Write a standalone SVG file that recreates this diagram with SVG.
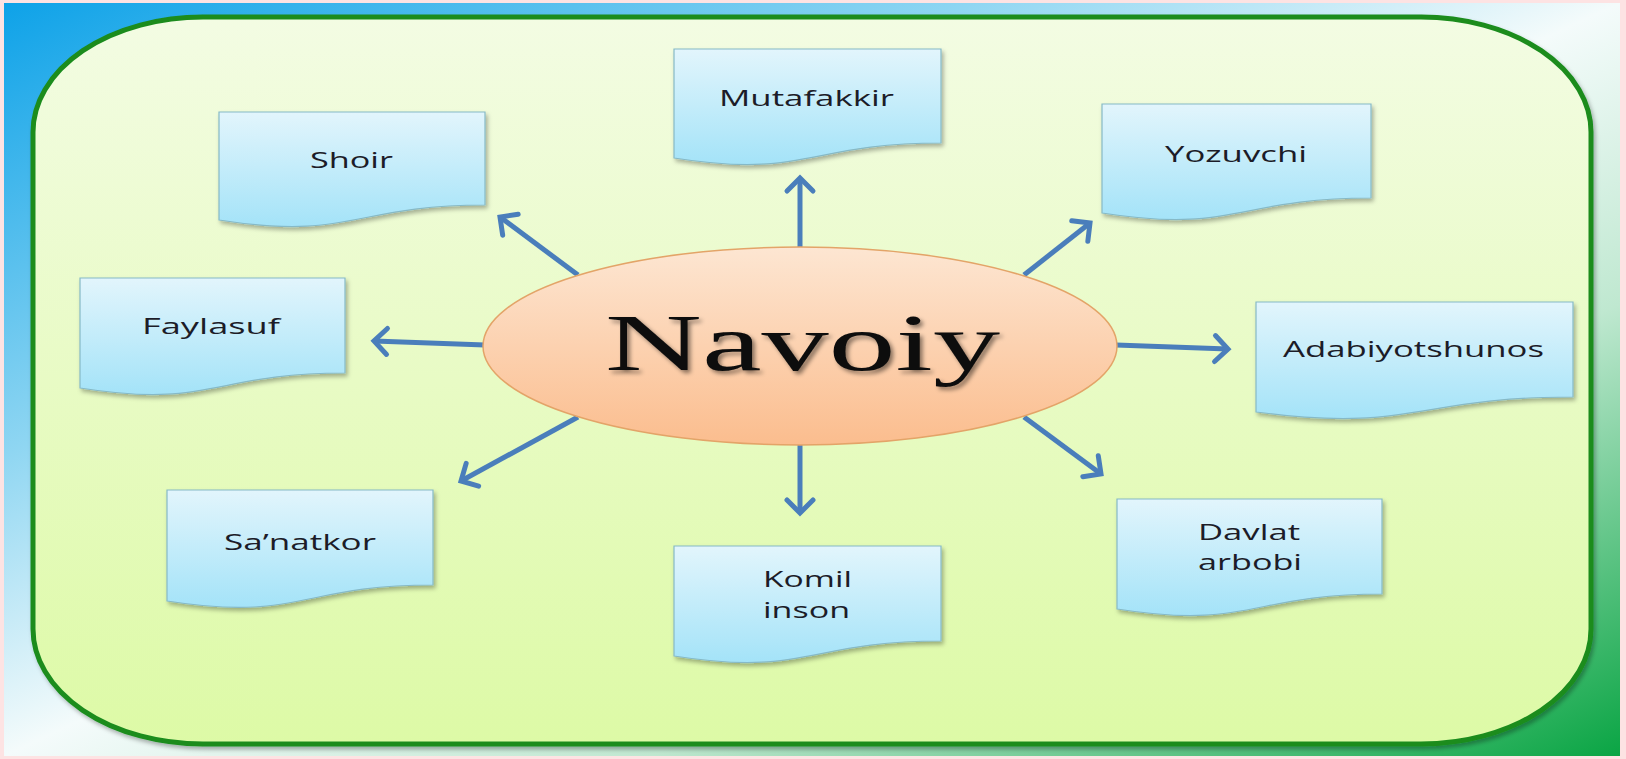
<svg xmlns="http://www.w3.org/2000/svg" width="1626" height="759" viewBox="0 0 1626 759">
<defs>
<linearGradient id="bg" x1="0" y1="0" x2="1" y2="1">
<stop offset="0" stop-color="#0ea2e8"/>
<stop offset="0.3" stop-color="#8fd6f2"/>
<stop offset="0.5" stop-color="#f4fbfb"/>
<stop offset="0.7" stop-color="#bfe8d0"/>
<stop offset="1" stop-color="#0aa544"/>
</linearGradient>
<linearGradient id="panel" x1="0" y1="0" x2="0" y2="1">
<stop offset="0" stop-color="#f3fce3"/>
<stop offset="1" stop-color="#ddfaa6"/>
</linearGradient>
<linearGradient id="doc" x1="0" y1="0" x2="0" y2="1">
<stop offset="0" stop-color="#e2f5fc"/>
<stop offset="1" stop-color="#a4e3f8"/>
</linearGradient>
<linearGradient id="ell" x1="0" y1="0" x2="0" y2="1">
<stop offset="0" stop-color="#fde6d2"/>
<stop offset="1" stop-color="#fbbd8e"/>
</linearGradient>
<filter id="sh" x="-10%" y="-10%" width="130%" height="140%">
<feDropShadow dx="2" dy="3" stdDeviation="2" flood-color="#000" flood-opacity="0.3"/>
</filter>
<filter id="tsh" x="-10%" y="-10%" width="130%" height="140%">
<feDropShadow dx="3" dy="3" stdDeviation="2" flood-color="#000" flood-opacity="0.45"/>
</filter>
<marker id="ah" markerUnits="userSpaceOnUse" markerWidth="40" markerHeight="40" viewBox="-20 -20 40 40" refX="0" refY="0" orient="auto">
<path d="M-13,-13 L0,0 L-13,13" fill="none" stroke="#4a7ebb" stroke-width="5" stroke-linejoin="miter" stroke-linecap="round"/>
</marker>
<style>
.doc{fill:url(#doc);stroke:#86b9c6;stroke-width:1.2;filter:url(#sh)}
.lbl{font-family:"Open Sans","Liberation Sans",sans-serif;font-size:21px;fill:#1c1c28}
.con{stroke:#4a7ebb;stroke-width:5;fill:none;marker-end:url(#ah)}
</style>
</defs>
<rect x="0" y="0" width="1626" height="759" fill="#fde3e3"/>
<rect x="4" y="3" width="1616" height="753" fill="url(#bg)"/>
<rect x="33" y="17" width="1558" height="727" rx="170" ry="115" fill="url(#panel)" stroke="#1a8c1e" stroke-width="5" filter="url(#sh)"/>

<g id="connectors">
<line class="con" x1="800" y1="250" x2="800" y2="178"/>
<line class="con" x1="800" y1="444" x2="800" y2="513"/>
<line class="con" x1="578" y1="275" x2="500" y2="217"/>
<line class="con" x1="1024" y1="275" x2="1090" y2="223"/>
<line class="con" x1="485" y1="345" x2="374" y2="341"/>
<line class="con" x1="1116" y1="345" x2="1228" y2="349"/>
<line class="con" x1="578" y1="417" x2="461" y2="481"/>
<line class="con" x1="1024" y1="417" x2="1101" y2="474"/>
</g>

<g id="navoiy">
<ellipse cx="800" cy="346" rx="317" ry="99" fill="url(#ell)" stroke="#e3a468" stroke-width="1.5"/>
<text x="605" y="370" font-family="'Liberation Serif','Times New Roman',serif" font-size="80" fill="#0a0a0a" textLength="395" lengthAdjust="spacingAndGlyphs" filter="url(#tsh)">Navoiy</text>
</g>

<g id="mutafakkir">
<path class="doc" d="M674,49 H941 V143 C807,143 807,179 674,158 Z"/>
<text class="lbl" x="719" y="106" textLength="175" lengthAdjust="spacingAndGlyphs">Mutafakkir</text>
</g>
<g id="shoir">
<path class="doc" d="M219,112 H485 V205 C352,205 352,241 219,220 Z"/>
<text class="lbl" x="310" y="168" textLength="83" lengthAdjust="spacingAndGlyphs">Shoir</text>
</g>
<g id="yozuvchi">
<path class="doc" d="M1102,104 H1371 V198 C1236,198 1236,234 1102,213 Z"/>
<text class="lbl" x="1165" y="162" textLength="142" lengthAdjust="spacingAndGlyphs">Yozuvchi</text>
</g>
<g id="faylasuf">
<path class="doc" d="M80,278 H345 V373 C212,373 212,409 80,388 Z"/>
<text class="lbl" x="142" y="334" textLength="138" lengthAdjust="spacingAndGlyphs">Faylasuf</text>
</g>
<g id="adabiyotshunos">
<path class="doc" d="M1256,302 H1573 V397 C1414,397 1414,433 1256,412 Z"/>
<text class="lbl" x="1283" y="357" textLength="261" lengthAdjust="spacingAndGlyphs">Adabiyotshunos</text>
</g>
<g id="sanatkor">
<path class="doc" d="M167,490 H433 V585 C300,585 300,622 167,601 Z"/>
<text class="lbl" x="224" y="550" textLength="152" lengthAdjust="spacingAndGlyphs">Sa’natkor</text>
</g>
<g id="komil-inson">
<path class="doc" d="M674,546 H941 V641 C807,641 807,677 674,656 Z"/>
<text class="lbl" x="763" y="587" textLength="89" lengthAdjust="spacingAndGlyphs">Komil</text>
<text class="lbl" x="763" y="618" textLength="87" lengthAdjust="spacingAndGlyphs">inson</text>
</g>
<g id="davlat-arbobi">
<path class="doc" d="M1117,499 H1382 V594 C1250,594 1250,630 1117,609 Z"/>
<text class="lbl" x="1198" y="540" textLength="102" lengthAdjust="spacingAndGlyphs">Davlat</text>
<text class="lbl" x="1198" y="570" textLength="104" lengthAdjust="spacingAndGlyphs">arbobi</text>
</g>
</svg>
